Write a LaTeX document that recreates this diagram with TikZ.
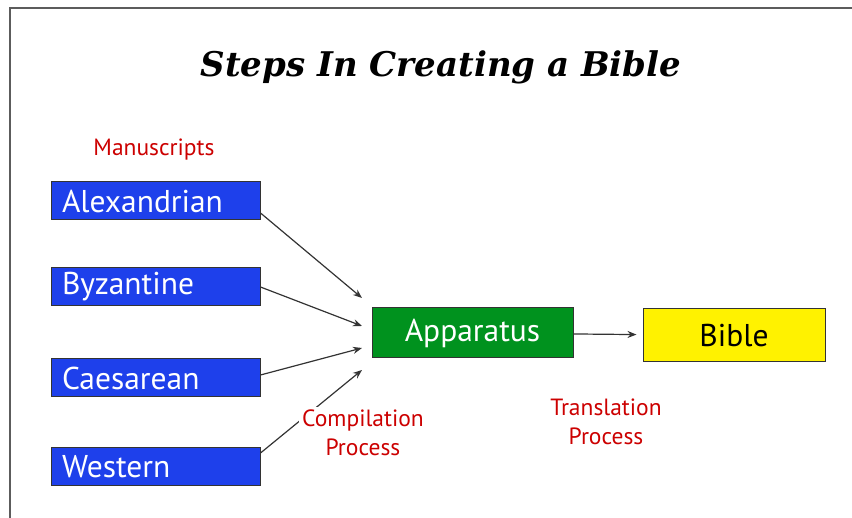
\documentclass[tikz,border=0pt]{standalone}
\usepackage{fontspec}
\setmainfont{PT Sans}
\newfontfamily\titlefont{DejaVu Serif}
\usetikzlibrary{arrows.meta}
\definecolor{msblue}{RGB}{30,64,235}
\definecolor{appgreen}{RGB}{0,146,30}
\definecolor{notered}{RGB}{204,0,0}
\definecolor{linegray}{RGB}{51,51,51}

\begin{document}
\begin{tikzpicture}[
              x=1pt, y=-1pt,
              box/.style={
                  draw=linegray,
                  line width=1pt,
                  inner sep=0pt,
                  font=\fontsize{31.5}{36}\selectfont,
                },
              ms/.style={
                  box,
                  fill=msblue,
                  text=white,
                  minimum height=38pt,
                  inner xsep=11pt,
                  text width=187pt,
                  align=left,
                },
              note/.style={
                  text=notered,
                  align=center,
                  font=\fontsize{23.5}{29}\selectfont,
                },
              flow/.style={
                  -{Stealth[length=9pt,width=7pt]},
                  every edge/.append style={draw=linegray,line width=1.2pt},
                },
            ]
            \useasboundingbox (0,0) rectangle (852,518);
            \draw[line width=1.5pt,draw=linegray!80] (10,518) -- (10,8) -- (852,8);

            \node[font=\titlefont\bfseries\itshape\fontsize{34}{40}\selectfont] (title) at (441,67) {Steps In Creating a Bible};

            \node[note] (manuscripts) at (154,150) {Manuscripts};
            \foreach \Name/\Ypos in {Alexandrian/201,Byzantine/287,Caesarean/378,Western/467}
            \node[ms] (\Name) at (155.5,\Ypos) {\Name};

            \node[box,fill=appgreen,text=white,minimum width=201pt,minimum height=50pt] (apparatus) at (472.5,333) {Apparatus};
            \node[box,fill=yellow,text=black,minimum width=182pt,minimum height=53pt] (bible) at (734,335.5) {Bible};

            \coordinate (in1) at (362,298);
            \coordinate (in2) at (362,326);
            \coordinate (in3) at (362,348);
            \coordinate (in4) at (362,370);

            \path[flow]
            ([yshift=-12pt]Alexandrian.east) edge (in1)
            (Byzantine.east) edge (in2)
            ([yshift=3pt]Caesarean.east) edge (in3)
            ([yshift=14pt]Western.east) edge (in4)
            (apparatus) edge[shorten >=6pt] (bible)
            ;

            \node[note,fill=white,inner sep=3pt] (compilation) at (363,433) {Compilation\\Process};
            \node[note] (translation) at (606,422) {Translation\\Process};
          \end{tikzpicture}
\end{document}
